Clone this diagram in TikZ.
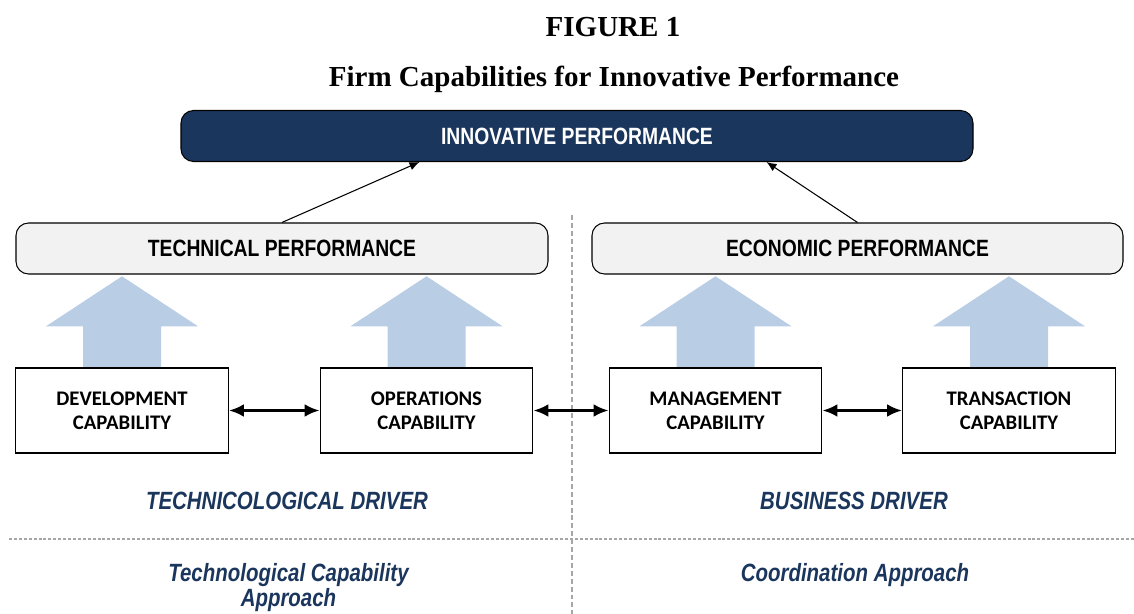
\documentclass[tikz,border=0pt]{standalone}
\usepackage{fontspec}
\setmainfont{Liberation Serif}
\newfontfamily\narrowsf{Liberation Sans}[FakeStretch=0.82]
\newfontfamily\calsf{Carlito}
\usetikzlibrary{arrows.meta,calc,backgrounds}

\definecolor{navy}{HTML}{1B365D}
\definecolor{panelgray}{HTML}{F2F2F2}
\definecolor{arrowblue}{HTML}{B9CDE5}
\definecolor{rulegray}{HTML}{A6A6A6}

\begin{document}
\begin{tikzpicture}[
	perfbox/.style={draw=black, line width=0.6pt, rounded corners=0.25cm, inner sep=0pt, minimum height=1.02cm, font=\narrowsf\bfseries\fontsize{13.4}{16}\selectfont},
	capbox/.style={draw=black, line width=0.8pt, fill=white, inner sep=0pt, minimum width=4.25cm, minimum height=1.7cm, align=center, font=\calsf\bfseries\fontsize{11.8}{13.9}\selectfont},
	driver/.style={text=navy, align=center, font=\narrowsf\bfseries\itshape\fontsize{14.2}{14.2}\selectfont},
	link/.style={line width=0.6pt, -{Latex[length=2mm,width=1.7mm]}},
	mutual/.style={line width=1.7pt, {Latex[length=3mm,width=2.6mm]}-{Latex[length=3mm,width=2.6mm]}}
]
	\useasboundingbox (0,0) rectangle (22.68,-12.28);

	\draw [rulegray, line width=0.6pt, dash pattern=on 2.8pt off 1.7pt] (11.44,-4.3) -- (11.44,-12.28);
	\draw [rulegray, line width=1.1pt, dash pattern=on 1.7pt off 1.1pt] (0.18,-10.78) -- (22.68,-10.78);

	\node [anchor=base, font=\bfseries\fontsize{16.5}{20}\selectfont] (fig) at (12.26,-0.74) {FIGURE 1};
	\node [anchor=base, font=\bfseries\fontsize{16.5}{20}\selectfont] (title) at (12.28,-1.74) {Firm Capabilities for Innovative Performance};

	\node [perfbox, fill=navy, text=white, minimum width=15.84cm] (innov) at (11.54,-2.72) {INNOVATIVE PERFORMANCE};
	\node [perfbox, fill=panelgray, minimum width=10.64cm] (tech) at (5.64,-4.97) {TECHNICAL PERFORMANCE};
	\node [perfbox, fill=panelgray, minimum width=10.62cm] (econ) at (17.15,-4.97) {ECONOMIC PERFORMANCE};

	\coordinate (innovL) at ($(innov.south west)+(4.78,0)$);
	\coordinate (innovR) at ($(innov.south east)+(-4.14,0)$);
	\draw [link] (tech.north) -- (innovL);
	\draw [link] (econ.north) -- (innovR);

	\node [capbox] (dev) at (2.44,-8.21) {DEVELOPMENT\\CAPABILITY};
	\node [capbox] (ops) at (8.53,-8.21) {OPERATIONS\\CAPABILITY};
	\node [capbox] (mgmt) at (14.31,-8.21) {MANAGEMENT\\CAPABILITY};
	\node [capbox] (trans) at (20.18,-8.21) {TRANSACTION\\CAPABILITY};

	\begin{scope}[on background layer]
	\foreach \b in {dev,ops,mgmt,trans}
		\fill [arrowblue] ($(\b.north)+(-0.78,0)$) -- ++(0,0.82) -- ++(-0.74,0) -- ($(\b.north)+(0,1.82)$) -- ++(1.52,-1) -- ++(-0.74,0) -- ++(0,-0.82) -- cycle;
	\end{scope}

	\draw [mutual] (dev) -- (ops);
	\draw [mutual] (ops) -- (mgmt);
	\draw [mutual] (mgmt) -- (trans);

	\node [driver] (techdrv) at (5.74,-10.02) {TECHNICOLOGICAL DRIVER};
	\node [driver] (busdrv) at (17.08,-10.02) {BUSINESS DRIVER};
	\node [driver] (techappr) at (5.77,-11.76) {Technological Capability\\Approach};
	\node [driver] (coordappr) at (17.1,-11.5) {Coordination Approach};
\end{tikzpicture}
\end{document}
